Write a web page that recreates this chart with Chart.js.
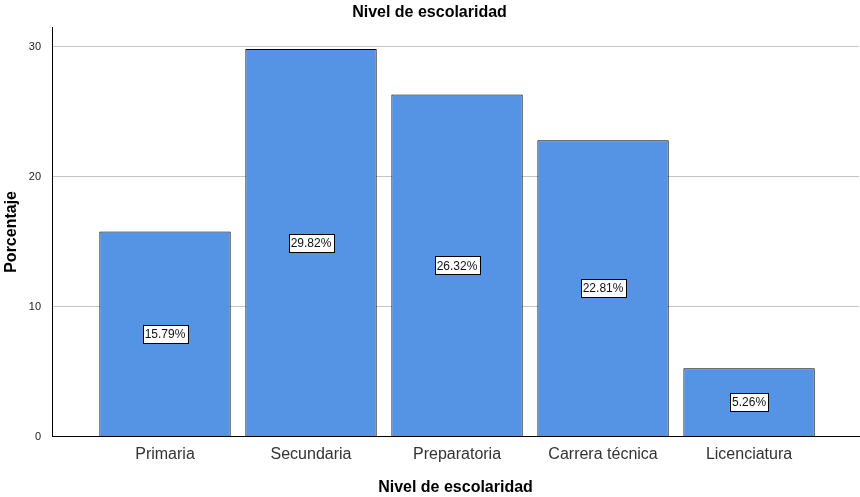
<!DOCTYPE html>
<html><head><meta charset="utf-8">
<script src="https://cdn.jsdelivr.net/npm/chart.js@4/dist/chart.umd.min.js"></script>
<style>html,body{margin:0;padding:0;background:#fff}#wrap{width:860px;height:497px}</style>
</head><body><div id="wrap"><canvas id="c" width="860" height="497"></canvas></div>
<script>
const categories = ["Primaria", "Secundaria", "Preparatoria", "Carrera técnica", "Licenciatura"];
const percentages = [15.79, 29.82, 26.32, 22.81, 5.26];
const yTicks = [0, 10, 20, 30];

const points = categories.map((c, i) => ({x: i + 1, y: percentages[i]}));
const FONT = 'Arial, "Liberation Sans", sans-serif';

const labelPlugin = {
  id: 'barLabels',
  afterDatasetsDraw(chart) {
    const ctx = chart.ctx;
    const meta = chart.getDatasetMeta(0);
    ctx.save();
    ctx.font = '12px ' + FONT;
    ctx.textAlign = 'center';
    ctx.textBaseline = 'middle';
    meta.data.forEach((bar, i) => {
      const txt = percentages[i].toFixed(2) + '%';
      const cx = bar.x;
      const cy = (bar.y + bar.base) / 2;
      const w = Math.round(ctx.measureText(txt).width + 4);
      const h = 18;
      const x0 = Math.round(cx - w / 2) + 0.5, y0 = Math.round(cy - h / 2) + 0.5;
      ctx.fillStyle = '#fff';
      ctx.fillRect(x0, y0, w, h);
      ctx.strokeStyle = '#000';
      ctx.lineWidth = 1;
      ctx.strokeRect(x0, y0, w, h);
      ctx.fillStyle = '#111';
      ctx.fillText(txt, cx, cy + 1);
    });
    ctx.restore();
  }
};

new Chart(document.getElementById('c'), {
  type: 'bar',
  data: {
    datasets: [{
      data: points,
      backgroundColor: '#5594E4',
      borderColor: '#000',
      borderWidth: 1,
      barPercentage: 0.9,
      categoryPercentage: 1.0
    }]
  },
  options: {
    responsive: false,
    animation: false,
    layout: {padding: {left: 0, right: 1, top: 0, bottom: 0}},
    plugins: {
      legend: {display: false},
      tooltip: {enabled: false},
      title: {
        display: true,
        text: 'Nivel de escolaridad',
        color: '#000',
        font: {family: FONT, size: 16, weight: 'bold'},
        padding: {top: 3, bottom: 5}
      }
    },
    scales: {
      x: {
        type: 'linear',
        offset: false,
        min: 0.226,
        max: 5.753,
        afterBuildTicks(s) { s.ticks = categories.map((c, i) => ({value: i + 1})); },
        ticks: {
          callback: (v) => categories[v - 1],
          color: '#333',
          font: {family: FONT, size: 16},
          padding: 8,
          autoSkip: false,
          maxRotation: 0
        },
        grid: {display: false, drawTicks: false},
        border: {display: true, color: '#000', width: 1},
        title: {
          display: true,
          text: 'Nivel de escolaridad',
          color: '#000',
          font: {family: FONT, size: 16, weight: 'bold'},
          padding: {top: 6, bottom: 0}
        }
      },
      y: {
        min: 0,
        max: 31.5,
        afterBuildTicks(s) { s.ticks = yTicks.map(v => ({value: v})); },
        afterFit(s) { s.width = 52; },
        ticks: {
          color: '#222',
          font: {family: FONT, size: 11},
          padding: 11
        },
        grid: {color: '#c4c4c4', drawTicks: false},
        border: {display: true, color: '#000', width: 1},
        title: {
          display: true,
          text: 'Porcentaje',
          color: '#000',
          font: {family: FONT, size: 16, weight: 'bold'},
          padding: {top: 2, bottom: 6}
        }
      }
    }
  },
  plugins: [labelPlugin]
});
</script>
</body></html>
